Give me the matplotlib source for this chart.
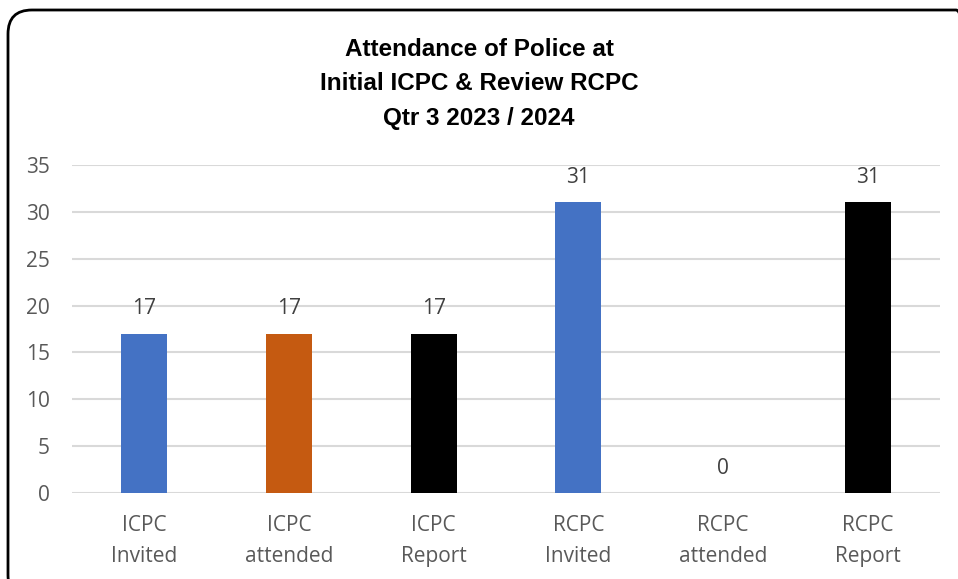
import matplotlib
matplotlib.use("Agg")
import matplotlib.pyplot as plt
from matplotlib.patches import FancyBboxPatch
from matplotlib import font_manager

categories = ["ICPC\nInvited", "ICPC\nattended", "ICPC\nReport",
              "RCPC\nInvited", "RCPC\nattended", "RCPC\nReport"]
values = [17, 17, 17, 31, 0, 31]
colors = ["#4472C4", "#C55A11", "#000000", "#4472C4", "#C55A11", "#000000"]
title_lines = ["Attendance of Police at", "Initial ICPC & Review RCPC", "Qtr 3 2023 / 2024"]
yticks = [0, 5, 10, 15, 20, 25, 30, 35]

names = {f.name for f in font_manager.fontManager.ttflist}
body_font = "Open Sans" if "Open Sans" in names else "DejaVu Sans"
title_font = "Liberation Sans Narrow" if "Liberation Sans Narrow" in names else "Liberation Sans"

fig = plt.figure(figsize=(9.58, 5.79), dpi=100)
ax = fig.add_axes([72/958, 1-493/579, (940-72)/958, (493-165)/579])

x = list(range(len(categories)))
bars = ax.bar(x, values, width=0.32, color=colors)
for xi, v in zip(x, values):
    ax.annotate(str(v), (xi, v), xytext=(0, 18), textcoords="offset points",
                ha="center", va="center", fontsize=15, color="#404040", family=body_font)

ax.set_xlim(-0.5, len(categories) - 0.5)
ax.set_ylim(0, 35)
ax.set_yticks(yticks)
ax.yaxis.grid(True, color="#D9D9D9", linewidth=1.5)
ax.set_axisbelow(True)
for s in ax.spines.values():
    s.set_visible(False)
ax.tick_params(axis="both", length=0, labelsize=15, labelcolor="#595959")
ax.tick_params(axis="y", pad=16)
ax.tick_params(axis="x", pad=16)
ax.set_xticks(x)
ax.set_xticklabels(categories, family=body_font, linespacing=1.6)
for lbl in ax.get_yticklabels():
    lbl.set_family(body_font)

fig.text(0.5, 1-84/579, "\n".join(title_lines), ha="center", va="center",
         fontsize=17.5, fontweight="bold", family=title_font, linespacing=1.62, color="#000000")

border = FancyBboxPatch((8/958, -20/579), (980-8)/958, (579+20-10)/579,
                        boxstyle="round,pad=0,rounding_size=0.025",
                        transform=fig.transFigure, fill=False, edgecolor="#000000",
                        linewidth=2, mutation_aspect=958/579)
fig.patches.append(border)

fig.savefig("out.png", dpi=100)
